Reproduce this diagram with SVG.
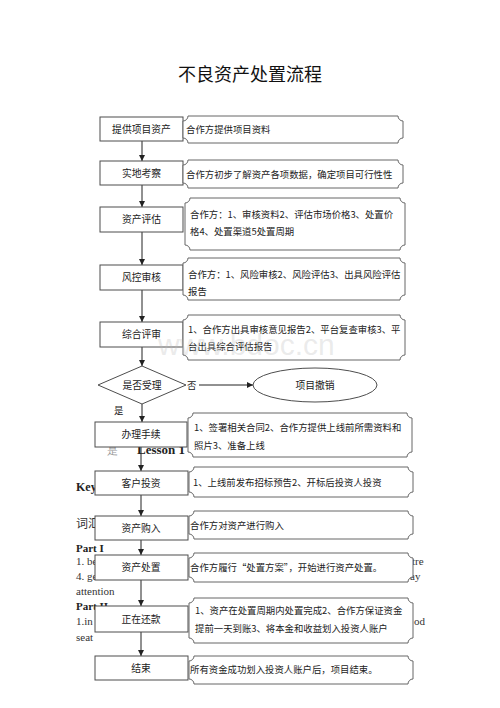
<svg xmlns="http://www.w3.org/2000/svg" width="500" height="708" viewBox="0 0 500 708">
<style>
.box{fill:#fff;stroke:#4d4d4d;stroke-width:1}
.call{fill:#fff;stroke:#666;stroke-width:1}
.t{font-family:"Noto Sans CJK SC",sans-serif;font-size:9.4px;fill:#222}
.c{text-anchor:middle;font-size:9.8px}
.bg{font-family:"Liberation Serif",serif;font-size:11px;fill:#333}
.bgb{font-family:"Liberation Serif",serif;font-size:12px;font-weight:bold;fill:#222}
.ln{stroke:#222;stroke-width:1;fill:none}
</style>
<defs>
<marker id="ah" markerWidth="6" markerHeight="6" refX="6" refY="3" orient="auto" markerUnits="userSpaceOnUse">
<path d="M0,0 L6,3 L0,6 Z" fill="#222"/>
</marker>
</defs>
<rect width="500" height="708" fill="#fff"/>
<text x="250" y="81" font-family="'Noto Sans CJK SC',sans-serif" font-size="18" fill="#111" text-anchor="middle">不良资产处置流程</text>

<g id="background-text">
<text class="bg" x="107" y="454" style="fill:#999">是</text>
<text class="bgb" x="137" y="454" style="font-size:13px">Lesson 1</text>
<text class="bgb" x="76" y="491">Key</text>
<text x="76" y="528" font-family="'Noto Sans CJK SC',sans-serif" font-size="12" fill="#333">词汇</text>
<text class="bgb" x="76" y="552" style="font-size:11px">Part I</text>
<text class="bg" x="76" y="565">1. be</text>
<text class="bg" x="412" y="565">tre</text>
<text class="bg" x="76" y="580">4. ge</text>
<text class="bg" x="410" y="580">ay</text>
<text class="bg" x="76" y="595">attention</text>
<text class="bgb" x="76" y="610" style="font-size:11px">Part II</text>
<text class="bg" x="76" y="625">1.in</text>
<text class="bg" x="414" y="625">od</text>
<text class="bg" x="76" y="641">seat</text>
</g>

<g id="connectors">
<line class="ln" x1="142" y1="141" x2="142" y2="161" marker-end="url(#ah)"/>
<line class="ln" x1="142" y1="185" x2="142" y2="207" marker-end="url(#ah)"/>
<line class="ln" x1="142" y1="232" x2="142" y2="265" marker-end="url(#ah)"/>
<line class="ln" x1="142" y1="290" x2="142" y2="322" marker-end="url(#ah)"/>
<line class="ln" x1="142" y1="347" x2="142" y2="366" marker-end="url(#ah)"/>
<line class="ln" x1="142" y1="404" x2="142" y2="422" marker-end="url(#ah)"/>
<line class="ln" x1="199" y1="385" x2="253" y2="385" marker-end="url(#ah)"/>
<line class="ln" x1="141" y1="447" x2="141" y2="471" marker-end="url(#ah)"/>
<line class="ln" x1="141" y1="495" x2="141" y2="516" marker-end="url(#ah)"/>
<line class="ln" x1="141" y1="540" x2="141" y2="555" marker-end="url(#ah)"/>
<line class="ln" x1="141" y1="580" x2="141" y2="606" marker-end="url(#ah)"/>
<line class="ln" x1="141" y1="632" x2="141" y2="656" marker-end="url(#ah)"/>
</g>

<g id="n1">
<rect class="box" x="100" y="117" width="83" height="24"/>
<text class="t c" x="141.5" y="132.5">提供项目资产</text>
<path class="call" d="M188,116 H398 A5,5 0 0 0 403,121 V138 A5,5 0 0 0 398,143 H188 A5,5 0 0 0 183,138 V121 A5,5 0 0 0 188,116 Z"/>
<text class="t" x="186" y="133">合作方提供项目资料</text>
</g>
<g id="n2">
<rect class="box" x="100" y="161" width="83" height="24"/>
<text class="t c" x="141.5" y="176.5">实地考察</text>
<path class="call" d="M188,160 H398 A5,5 0 0 0 403,165 V183 A5,5 0 0 0 398,188 H188 A5,5 0 0 0 183,183 V165 A5,5 0 0 0 188,160 Z"/>
<text class="t" x="186" y="178">合作方初步了解资产各项数据，确定项目可行性性</text>
</g>
<g id="n3">
<rect class="box" x="100" y="207" width="83" height="25"/>
<text class="t c" x="141.5" y="223">资产评估</text>
<path class="call" d="M190,198 H400 A5,5 0 0 0 405,203 V245 A5,5 0 0 0 400,250 H190 A5,5 0 0 0 185,245 V203 A5,5 0 0 0 190,198 Z"/>
<text class="t" x="190" y="218">合作方：1、审核资料2、评估市场价格3、处置价</text>
<text class="t" x="190" y="235">格4、处置渠道5处置周期</text>
</g>
<g id="n4">
<rect class="box" x="100" y="265" width="83" height="25"/>
<text class="t c" x="141.5" y="281">风控审核</text>
<path class="call" d="M188,258 H400 A5,5 0 0 0 405,263 V295 A5,5 0 0 0 400,300 H188 A5,5 0 0 0 183,295 V263 A5,5 0 0 0 188,258 Z"/>
<text class="t" x="188" y="278">合作方：1、风险审核2、风险评估3、出具风险评估</text>
<text class="t" x="188" y="295">报告</text>
</g>
<g id="n5">
<rect class="box" x="100" y="322" width="83" height="25"/>
<text class="t c" x="141.5" y="338">综合评审</text>
<path class="call" d="M188,315 H400 A5,5 0 0 0 405,320 V355 A5,5 0 0 0 400,360 H188 A5,5 0 0 0 183,355 V320 A5,5 0 0 0 188,315 Z"/>
<text class="t" x="188" y="333">1、合作方出具审核意见报告2、平台复查审核3、平</text>
<text class="t" x="188" y="350">台出具综合评估报告</text>
</g>
<g id="n6">
<polygon class="box" points="142,366 186,385 142,404 98,385"/>
<text class="t c" x="142" y="388.5">是否受理</text>
<text class="t" x="187" y="389">否</text>
<text class="t" x="114" y="414">是</text>
</g>
<g id="n7">
<ellipse class="box" cx="315" cy="385" rx="62" ry="17"/>
<text class="t c" x="315" y="388.5">项目撤销</text>
</g>
<g id="n8">
<rect class="box" x="95" y="422" width="92" height="25"/>
<text class="t c" x="141" y="438">办理手续</text>
<path class="call" d="M193,413 H407 A5,5 0 0 0 412,418 V452 A5,5 0 0 0 407,457 H193 A5,5 0 0 0 188,452 V418 A5,5 0 0 0 193,413 Z"/>
<text class="t" x="194" y="431">1、签署相关合同2、合作方提供上线前所需资料和</text>
<text class="t" x="194" y="449">照片3、准备上线</text>
</g>
<g id="n9">
<rect class="box" x="95" y="471" width="93" height="24"/>
<text class="t c" x="141" y="486.5">客户投资</text>
<path class="call" d="M194,467 H408 A5,5 0 0 0 413,472 V492 A5,5 0 0 0 408,497 H194 A5,5 0 0 0 189,492 V472 A5,5 0 0 0 194,467 Z"/>
<text class="t" x="193" y="486">1、上线前发布招标预告2、开标后投资人投资</text>
</g>
<g id="n10">
<rect class="box" x="95" y="516" width="93" height="24"/>
<text class="t c" x="141" y="531.5">资产购入</text>
<path class="call" d="M194,511 H408 A5,5 0 0 0 413,516 V534 A5,5 0 0 0 408,539 H194 A5,5 0 0 0 189,534 V516 A5,5 0 0 0 194,511 Z"/>
<text class="t" x="190" y="528.5">合作方对资产进行购入</text>
</g>
<g id="n11">
<rect class="box" x="95" y="555" width="93" height="25"/>
<text class="t c" x="141" y="571">资产处置</text>
<path class="call" d="M194,553 H408 A5,5 0 0 0 413,558 V577 A5,5 0 0 0 408,582 H194 A5,5 0 0 0 189,577 V558 A5,5 0 0 0 194,553 Z"/>
<text class="t" x="190" y="571">合作方履行“处置方案”，开始进行资产处置。</text>
</g>
<g id="n12">
<rect class="box" x="95" y="606" width="93" height="26"/>
<text class="t c" x="141" y="622.5">正在还款</text>
<path class="call" d="M194,598 H408 A5,5 0 0 0 413,603 V638 A5,5 0 0 0 408,643 H194 A5,5 0 0 0 189,638 V603 A5,5 0 0 0 194,598 Z"/>
<text class="t" x="195" y="614">1、资产在处置周期内处置完成2、合作方保证资金</text>
<text class="t" x="195" y="632">提前一天到账3、将本金和收益划入投资人账户</text>
</g>
<g id="n13">
<rect class="box" x="95" y="656" width="93" height="24"/>
<text class="t c" x="141" y="671.5">结束</text>
<path class="call" d="M194,656 H408 A5,5 0 0 0 413,661 V679 A5,5 0 0 0 408,684 H194 A5,5 0 0 0 189,679 V661 A5,5 0 0 0 194,656 Z"/>
<text class="t" x="190" y="673">所有资金成功划入投资人账户后，项目结束。</text>
</g>
<text x="158" y="355" font-family="'Liberation Sans',sans-serif" font-size="30" fill="#bbb" fill-opacity="0.3">www.bdoc.cn</text>
</svg>
